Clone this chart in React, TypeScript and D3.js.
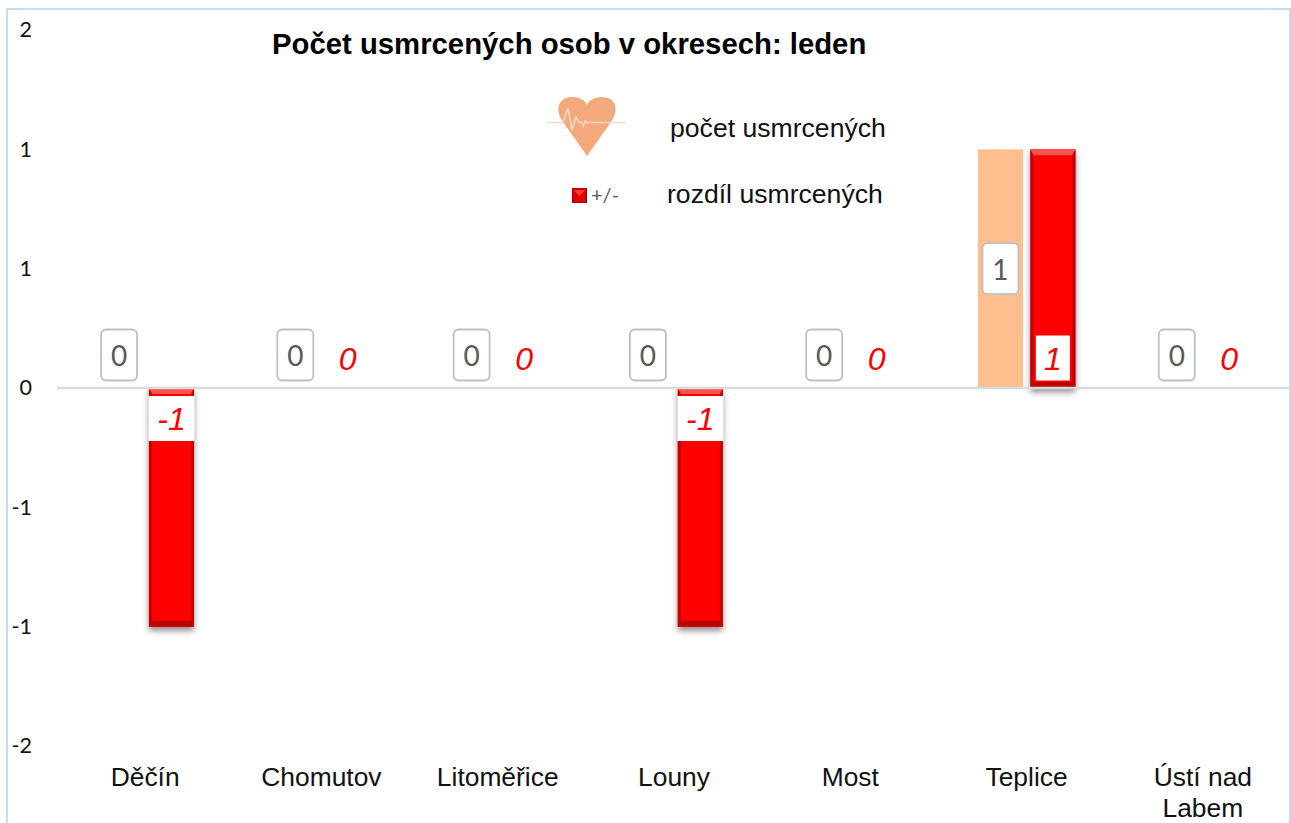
import { useEffect, useRef } from "react";
import * as d3 from "d3";

const categories = ["Děčín", "Chomutov", "Litoměřice", "Louny", "Most", "Teplice", "Ústí nad Labem"];
const deaths = [0, 0, 0, 0, 0, 1, 0];
const diffs = [-1, 0, 0, -1, 0, 1, 0];
const yTicks = [1.5, 1, 0.5, 0, -0.5, -1, -1.5];
const seriesKeys = ["deaths", "diffs"];

const width = 1291;
const height = 823;
const sans = "'Liberation Sans', Arial, sans-serif";
const calibri = "Lato, 'Open Sans', sans-serif";

// excel rounds the half steps away from zero, so 0.5 reads "1"
const tickLabel = (v: number) => {
  const r = Math.round(Math.abs(v));
  return r === 0 ? "0" : `${v < 0 ? "-" : ""}${r}`;
};

export default function App() {
  const svgRef = useRef<SVGSVGElement>(null);

  useEffect(() => {
    if (!svgRef.current) return;
    const svg = d3.select(svgRef.current);
    svg.selectAll("*").remove();

    const x = d3.scaleBand<string>().domain(categories).range([57, 1291]);
    const inner = d3.scaleBand<string>().domain(seriesKeys).range([39.5, 137]).paddingInner(0.14);
    const y = d3.scaleLinear().domain([-1.5, 1.5]).range([746, 30]);
    const y0 = y(0);
    const bw = inner.bandwidth();

    const defs = svg.append("defs");
    const shadow = defs.append("filter").attr("id", "barShadow")
      .attr("x", "-30%").attr("y", "-10%").attr("width", "160%").attr("height", "120%");
    shadow.append("feDropShadow").attr("dx", 0).attr("dy", 4).attr("stdDeviation", 3)
      .attr("flood-color", "#000").attr("flood-opacity", 0.45);

    // chart frame
    svg.append("rect").attr("x", 7).attr("y", 9).attr("width", 1283).attr("height", 840)
      .attr("fill", "#fff").attr("stroke", "#C5DDF1").attr("stroke-width", 2);

    // y axis
    const yAxis = d3.axisLeft(y).tickValues(yTicks).tickSize(0).tickPadding(25)
      .tickFormat((d) => tickLabel(+d));
    const yG = svg.append("g").attr("transform", "translate(57,0)").call(yAxis);
    yG.select(".domain").remove();
    yG.selectAll("text").attr("font-family", calibri).attr("font-size", 21.5).attr("fill", "#111");

    // x axis
    const xAxis = d3.axisBottom(x).tickSize(0).tickPadding(0);
    const xG = svg.append("g").attr("transform", "translate(0,746)").call(xAxis);
    xG.select(".domain").remove();
    xG.selectAll<SVGTextElement, string>("text").each(function (d) {
      const t = d3.select(this);
      const lines = d.length > 12 ? ["Ústí nad", "Labem"] : [d];
      t.text(null).attr("dy", null).attr("font-family", sans).attr("font-size", 26.4).attr("fill", "#111");
      lines.forEach((line, i) => {
        t.append("tspan").attr("x", 0).attr("y", 40 + i * 31).text(line);
      });
    });

    // count series
    svg.append("g").selectAll("rect").data(categories).join("rect")
      .attr("x", (d) => x(d)! + inner("deaths")!)
      .attr("y", (_, i) => y(Math.max(deaths[i], 0)))
      .attr("width", bw)
      .attr("height", (_, i) => Math.abs(y(deaths[i]) - y0))
      .attr("fill", "#FFBE8E");

    // difference series, bevelled
    const bars = svg.append("g").selectAll("g")
      .data(categories.filter((_, i) => diffs[i] !== 0)).join("g");
    bars.each(function (d) {
      const v = diffs[categories.indexOf(d)];
      const left = x(d)! + inner("diffs")!;
      const right = left + bw;
      const top = y(Math.max(v, 0));
      const bottom = y(Math.min(v, 0));
      const g = d3.select(this);
      const b = 6;
      const side = 3;
      g.append("rect").attr("x", left).attr("y", top).attr("width", bw).attr("height", bottom - top)
        .attr("fill", "#FF0000").attr("filter", "url(#barShadow)");
      const poly = (pts: number[][], fill: string) =>
        g.append("polygon").attr("points", pts.join(" ")).attr("fill", fill);
      poly([[left, top], [right, top], [right - side, top + b], [left + side, top + b]], "#FF5050");
      poly([[left, bottom], [right, bottom], [right - side, bottom - b], [left + side, bottom - b]], "#BE0000");
      poly([[left, top], [left + side, top + b], [left + side, bottom - b], [left, bottom]], "#C40000");
      poly([[right, top], [right - side, top + b], [right - side, bottom - b], [right, bottom]], "#C40000");
    });

    // axis line over the bars
    svg.append("line").attr("x1", 57).attr("x2", 1291).attr("y1", y0).attr("y2", y0)
      .attr("stroke", "#D9D9D9").attr("stroke-width", 2.5);

    // count labels
    const countLabels = svg.append("g").selectAll("g").data(categories).join("g")
      .attr("transform", (d, i) => {
        const cx = x(d)! + inner("deaths")! + bw / 2;
        const cy = deaths[i] > 0 ? (y(deaths[i]) + y0) / 2 : y0 - 33;
        return `translate(${cx},${cy})`;
      });
    countLabels.append("rect").attr("x", -18).attr("y", -25.5).attr("width", 36).attr("height", 51)
      .attr("rx", 5).attr("fill", "#fff").attr("stroke", "#BFBFBF").attr("stroke-width", 1.8);
    countLabels.append("text").attr("text-anchor", "middle").attr("dominant-baseline", "central")
      .attr("font-family", calibri).attr("font-size", 28).attr("fill", "#595959")
      .text((_, i) => deaths[i]);

    // difference labels
    const diffLabels = svg.append("g").selectAll("g").data(categories).join("g")
      .attr("transform", (d, i) => {
        const cx = x(d)! + inner("diffs")! + bw / 2;
        const cy = diffs[i] < 0 ? y0 + 30.5 : y0 - 29;
        return `translate(${cx},${cy})`;
      });
    diffLabels.filter((_, i) => diffs[i] !== 0).append("rect")
      .attr("x", (d) => (diffs[categories.indexOf(d)] < 0 ? -23 : -17))
      .attr("y", (d) => (diffs[categories.indexOf(d)] < 0 ? -22.5 : -23.5))
      .attr("width", (d) => (diffs[categories.indexOf(d)] < 0 ? 46 : 34))
      .attr("height", 45)
      .attr("fill", "#fff");
    diffLabels.append("text").attr("text-anchor", "middle").attr("dominant-baseline", "central")
      .attr("font-family", sans).attr("font-size", 32).attr("font-style", "italic").attr("fill", "#FF0000")
      .text((_, i) => diffs[i]);

    // title
    svg.append("text").attr("x", 272).attr("y", 54).attr("font-family", sans)
      .attr("font-size", 29.3).attr("font-weight", 700).attr("fill", "#000")
      .text("Počet usmrcených osob v okresech: leden");

    // legend: heart
    const heart = svg.append("g").attr("transform", "translate(587,126)");
    heart.append("path")
      .attr("d", "M0,30 L-24,-4 C-33,-17 -28,-29 -15,-29 C-8,-29 -2,-26 0,-21 C2,-26 8,-29 15,-29 C28,-29 33,-17 24,-4 Z")
      .attr("fill", "#F4A97C");
    heart.append("path")
      .attr("d", "M-40,-3.5 L-25,-3.5 L-23,-6 L-19,-18 L-15,4 L-11,-9 L-8,-3.5 L-6,-4 L-4,0 L-2,-5 L0,-3.5 L38,-3.5")
      .attr("fill", "none").attr("stroke", "#FBD8C2").attr("stroke-width", 1.6);
    svg.append("text").attr("x", 670).attr("y", 137).attr("font-family", sans)
      .attr("font-size", 26.6).attr("fill", "#111").text("počet usmrcených");

    // legend: red key
    svg.append("rect").attr("x", 572.5).attr("y", 188.5).attr("width", 14).attr("height", 14)
      .attr("fill", "#E00000").attr("stroke", "#A80000").attr("stroke-width", 1);
    svg.append("polygon").attr("points", "574,190 585,190 579.5,196").attr("fill", "#FF3C3C");
    svg.append("text").attr("x", 591).attr("y", 202).attr("font-family", calibri)
      .attr("font-size", 20).attr("fill", "#595959").text("+/-");
    svg.append("text").attr("x", 667).attr("y", 203).attr("font-family", sans)
      .attr("font-size", 26.6).attr("fill", "#111").text("rozdíl usmrcených");
  }, []);

  return (
    <svg
      ref={svgRef}
      width={width}
      height={height}
      style={{ position: "absolute", left: 0, top: 0, display: "block", background: "#fff" }}
    />
  );
}
